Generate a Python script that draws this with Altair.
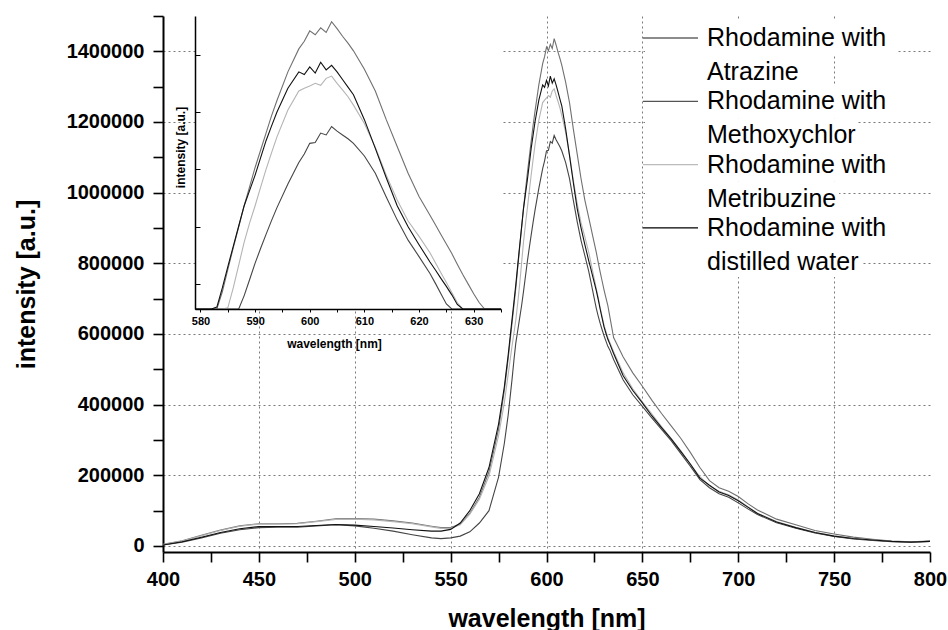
import altair as alt
import pandas as pd

# ---------------- data ----------------
wavelength = [400, 410, 420, 430, 440, 450, 460, 470, 480, 490, 500, 510, 520, 530, 540,
              545, 550, 555, 560, 565, 570, 575,
              578, 579, 580, 581, 582, 583, 584, 585, 586, 587, 588, 589, 590, 591, 592, 593, 594, 596, 598,
              599, 600, 601, 602, 603, 604, 605, 606, 607, 608,
              610, 612, 614, 616, 618, 620, 622, 623, 624, 625, 626, 627, 628, 629, 630, 631, 632, 633,
              635, 640, 645, 650, 655, 660, 665, 670, 675, 680, 685, 690, 695, 700, 705, 710,
              720, 730, 740, 750, 760, 770, 780, 790, 800]

atrazine = [5000, 15000, 30000, 45000, 57000, 63000, 63000, 64000, 70000, 77000, 78000, 76000, 71000, 65000, 56000,
            52000, 52000, 62000, 92000, 138000, 210000, 330000,
            440000, 485000, 530000, 580000, 630000, 680000, 730000, 788000, 845000, 900000, 955000, 1005000, 1055000, 1100000, 1145000, 1190000, 1230000, 1305000, 1365000,
            1385000, 1412000, 1402000, 1420000, 1408000, 1436000, 1418000, 1398000, 1380000, 1360000,
            1312000, 1255000, 1180000, 1110000, 1040000, 979000, 930000, 905000, 880000, 855000, 830000, 802000, 775000, 750000, 725000, 702000, 680000, 650000,
            590000, 535000, 490000, 452000, 412000, 375000, 340000, 305000, 265000, 222000, 185000, 165000, 155000, 140000, 120000, 102000,
            76000, 60000, 44000, 34000, 25000, 19000, 14000, 12000, 14000]

methoxychlor = [3000, 11000, 23000, 36000, 46000, 52000, 53000, 53000, 57000, 60000, 57000, 50000, 42000, 32000, 23000,
                21000, 23000, 28000, 40000, 65000, 100000, 195000,
                290000, 330000, 370000, 420000, 470000, 525000, 575000, 610000, 645000, 680000, 720000, 762000, 805000, 843000, 880000, 916000, 950000, 1012000, 1068000,
                1090000, 1118000, 1120000, 1145000, 1140000, 1162000, 1150000, 1140000, 1130000, 1118000,
                1085000, 1040000, 978000, 918000, 865000, 822000, 778000, 752000, 725000, 698000, 672000, 650000, 630000, 612000, 595000, 580000, 565000, 555000,
                528000, 470000, 428000, 395000, 362000, 330000, 298000, 262000, 226000, 188000, 165000, 148000, 138000, 122000, 105000, 89000,
                66000, 50000, 37000, 27000, 20000, 16000, 12500, 11000, 13000]

metribuzine = [4000, 14000, 29000, 44000, 56000, 62000, 62000, 63000, 69000, 75000, 76000, 74000, 69000, 63000, 54000,
               50000, 50000, 60000, 90000, 132000, 198000, 312000,
               405000, 445000, 485000, 525000, 565000, 602000, 640000, 688000, 740000, 800000, 860000, 910000, 955000, 1003000, 1050000, 1093000, 1135000, 1205000, 1255000,
               1262000, 1268000, 1275000, 1270000, 1288000, 1294000, 1275000, 1258000, 1240000, 1218000,
               1170000, 1108000, 1035000, 970000, 915000, 875000, 832000, 806000, 780000, 754000, 728000, 702000, 675000, 650000, 625000, 607000, 590000, 577000,
               550000, 490000, 445000, 408000, 373000, 338000, 305000, 270000, 232000, 196000, 170000, 155000, 145000, 130000, 111000, 93000,
               69000, 53000, 39000, 29000, 22000, 17500, 13500, 11500, 13500]

water = [3000, 12000, 25000, 38000, 49000, 55000, 55000, 55000, 58000, 61000, 59000, 55000, 51000, 46000, 42000,
         42000, 47000, 65000, 100000, 148000, 222000, 345000,
         450000, 495000, 540000, 590000, 640000, 690000, 740000, 795000, 849000, 902000, 955000, 995000, 1035000, 1080000, 1125000, 1163000, 1200000, 1262000, 1305000,
         1298000, 1318000, 1302000, 1330000, 1310000, 1322000, 1305000, 1285000, 1265000, 1245000,
         1180000, 1105000, 1028000, 955000, 900000, 853000, 808000, 787000, 765000, 744000, 722000, 697000, 670000, 645000, 620000, 602000, 585000, 572000,
         545000, 482000, 440000, 405000, 368000, 335000, 303000, 268000, 232000, 192000, 172000, 153000, 143000, 128000, 110000, 92000,
         68000, 52000, 38000, 28000, 21000, 17000, 13000, 11000, 13000]

series_names = ["Rhodamine with Atrazine", "Rhodamine with Methoxychlor",
                "Rhodamine with Metribuzine", "Rhodamine with distilled water"]
legend_line1 = ["Rhodamine with", "Rhodamine with", "Rhodamine with", "Rhodamine with"]
legend_line2 = ["Atrazine", "Methoxychlor", "Metribuzine", "distilled water"]

main_x_ticks = list(range(400, 801, 25))
main_y_ticks = list(range(0, 1500001, 100000))
inset_x_ticks = list(range(580, 636, 5))
inset_y_ticks = [750000, 900000, 1050000, 1200000, 1350000]

# ---------------- styling ----------------
line_colors = ["#707070", "#454545", "#b4b4b4", "#111111"]
legend_colors = ["#666666", "#555555", "#bbbbbb", "#000000"]
FONT = "Liberation Sans"

W, H = 767, 536          # main plot area
INSET_X = [32, 338]      # inset range inside the plot area (px)
INSET_Y = [293, 0]

rows = []
for name, vals in zip(series_names, [atrazine, methoxychlor, metribuzine, water]):
    for w, v in zip(wavelength, vals):
        rows.append({"wavelength": w, "intensity": v, "series": name})
df = pd.DataFrame(rows)

color = alt.Color("series:N", scale=alt.Scale(domain=series_names, range=line_colors), legend=None)

grid_x_test = "datum.value % 50 == 0 && datum.value > 400 && datum.value < 800"
grid_y_test = "datum.value % 200000 == 0 && datum.value <= 1400000"

main_lines = alt.Chart(df).mark_line(strokeWidth=1.1).encode(
    x=alt.X("wavelength:Q",
            scale=alt.Scale(domain=[400, 800], nice=False, zero=False),
            axis=alt.Axis(orient="bottom", values=main_x_ticks, format="d",
                          labelExpr="datum.value % 50 == 0 ? datum.label : ''",
                          labelFlush=False,
                          labelFont=FONT, labelFontWeight="bold", labelFontSize=20, labelColor="black",
                          labelPadding=7, tickSize=10, tickWidth=1.6, tickColor="black",
                          domainColor="black", domainWidth=2,
                          grid=True, gridColor="#7a7a7a", gridDash=[2, 3], gridWidth=1,
                          gridOpacity={"condition": {"test": grid_x_test, "value": 1}, "value": 0},
                          title="wavelength [nm]", titleFont=FONT, titleFontWeight="bold",
                          titleFontSize=25, titleColor="black", titleX=W / 2, titleY=74,
                          titleAlign="center", titleBaseline="alphabetic", zindex=0)),
    y=alt.Y("intensity:Q",
            scale=alt.Scale(domain=[-17000, 1500000], nice=False, zero=False),
            axis=alt.Axis(orient="left", values=main_y_ticks, format="d",
                          labelExpr="datum.value % 200000 == 0 ? datum.label : ''",
                          labelFlush=False,
                          labelFont=FONT, labelFontWeight="bold", labelFontSize=20, labelColor="black",
                          labelPadding=9, tickSize=10, tickWidth=1.6, tickColor="black",
                          domainColor="black", domainWidth=2,
                          grid=True, gridColor="#7a7a7a", gridDash=[2, 3], gridWidth=1,
                          gridOpacity={"condition": {"test": grid_y_test, "value": 1}, "value": 0},
                          title="intensity [a.u.]", titleFont=FONT, titleFontWeight="bold",
                          titleFontSize=25, titleColor="black", titleAngle=270,
                          titleX=34.5 - 163, titleY=268, titleAlign="center",
                          titleBaseline="alphabetic", zindex=0)),
    color=color,
)

# white background of the inset
inset_bg = alt.Chart(pd.DataFrame({"a": [0]})).mark_rect(fill="white", stroke=None).encode(
    x=alt.value(INSET_X[0]), x2=alt.value(INSET_X[1] + 2),
    y=alt.value(INSET_Y[1]), y2=alt.value(INSET_Y[0]),
)

df_inset = df[(df["wavelength"] >= 578) & (df["wavelength"] <= 640)]

inset_lines = alt.Chart(df_inset).mark_line(strokeWidth=1.1).encode(
    x=alt.X("wavelength:Q",
            scale=alt.Scale(domain=[579, 635], range=INSET_X, nice=False, zero=False, clamp=True),
            axis=alt.Axis(orient="bottom", offset=-(H - INSET_Y[0]), values=inset_x_ticks, format="d",
                          labelExpr="datum.value % 10 == 0 ? datum.label : ''",
                          labelFlush=False,
                          labelFont=FONT, labelFontWeight="bold", labelFontSize=11, labelColor="black",
                          labelPadding=3, tickSize=3, tickWidth=1, tickColor="black",
                          domainColor="black", domainWidth=1.5, grid=False,
                          title="wavelength [nm]", titleFont=FONT, titleFontWeight="bold",
                          titleFontSize=12, titleColor="black", titleX=171, titleY=38,
                          titleAlign="center", titleBaseline="alphabetic", zindex=2)),
    y=alt.Y("intensity:Q",
            scale=alt.Scale(domain=[685000, 1451000], range=INSET_Y, nice=False, zero=False, clamp=True),
            axis=alt.Axis(orient="right", offset=INSET_X[0] - W, values=inset_y_ticks,
                          labels=False, tickSize=5, tickWidth=1, tickColor="black",
                          domainColor="black", domainWidth=1.5, grid=False,
                          title="intensity [a.u.]", titleFont=FONT, titleFontWeight="bold",
                          titleFontSize=12, titleColor="black", titleAngle=270,
                          titleX=-11, titleY=131, titleAlign="center",
                          titleBaseline="alphabetic", zindex=2)),
    color=color,
)

# ---------------- legend (drawn by hand, Origin style) ----------------
leg_rows, rect_rows = [], []
line2_widths = [95, 150, 132, 155]
for i in range(4):
    c1 = 22 + i * 63.3          # centre of first text line (plot coords)
    c2 = c1 + 34
    leg_rows.append({"tx": 544, "ty": c1, "label": legend_line1[i]})
    leg_rows.append({"tx": 544, "ty": c2, "label": legend_line2[i]})
    rect_rows.append({"x1": 482, "x2": 735, "y1": c1 - 17, "y2": c1 + 17})
    rect_rows.append({"x1": 482, "x2": 544 + line2_widths[i], "y1": c2 - 17, "y2": c2 + 15})
df_leg = pd.DataFrame(leg_rows)
df_rect = pd.DataFrame(rect_rows)
df_sym = pd.DataFrame({"series": series_names,
                       "sy": [22 + i * 63.3 for i in range(4)]})

legend_rects = alt.Chart(df_rect).mark_rect(fill="white").encode(
    x=alt.X("x1:Q", scale=None, axis=None), x2="x2:Q",
    y=alt.Y("y1:Q", scale=None, axis=None), y2="y2:Q",
)
legend_syms = alt.Chart(df_sym).mark_rule(strokeWidth=1.3).encode(
    x=alt.value(480), x2=alt.value(535),
    y=alt.Y("sy:Q", scale=None, axis=None),
    color=alt.Color("series:N", scale=alt.Scale(domain=series_names, range=legend_colors), legend=None),
)
legend_text = alt.Chart(df_leg).mark_text(align="left", baseline="middle", font=FONT,
                                          fontSize=25, color="black").encode(
    x=alt.X("tx:Q", scale=None, axis=None),
    y=alt.Y("ty:Q", scale=None, axis=None),
    text="label:N",
)

chart = alt.layer(
    main_lines, inset_bg, inset_lines, legend_rects, legend_syms, legend_text
).resolve_scale(
    x="independent", y="independent", color="independent"
).properties(
    width=W, height=H,
    autosize=alt.AutoSizeParams(type="none"),
    padding={"left": 163, "top": 16, "right": 18, "bottom": 78},
    background="white",
).configure_view(stroke=None)

chart.save("out.html", embed_options={"renderer": "svg", "actions": False})
